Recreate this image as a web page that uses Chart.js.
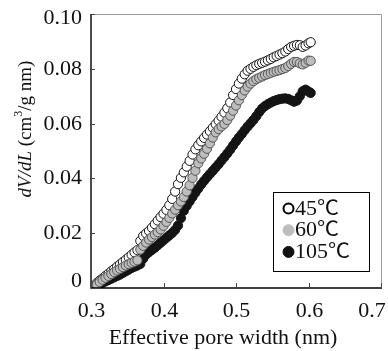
<!DOCTYPE html>
<html>
<head>
<meta charset="utf-8">
<script src="https://cdn.jsdelivr.net/npm/chart.js@4.4.1/dist/chart.umd.min.js"></script>
<style>
  html, body { margin: 0; padding: 0; background: #fff; }
  #wrap { width: 388px; height: 351px; }
</style>
</head>
<body>
<div id="wrap"><canvas id="poreChart" width="388" height="351"></canvas></div>
<script>
var poreWidth = [0.308, 0.312, 0.316, 0.320, 0.324, 0.328, 0.332, 0.336, 0.340, 0.344,
    0.348, 0.352, 0.356, 0.360, 0.364, 0.368, 0.372, 0.376, 0.380, 0.384,
    0.388, 0.392, 0.396, 0.400, 0.404, 0.408, 0.412, 0.416, 0.420, 0.424,
    0.428, 0.432, 0.436, 0.440, 0.444, 0.448, 0.452, 0.456, 0.460, 0.464,
    0.468, 0.472, 0.476, 0.480, 0.484, 0.488, 0.492, 0.496, 0.500, 0.504,
    0.508, 0.512, 0.516, 0.520, 0.524, 0.528, 0.532, 0.536, 0.540, 0.544,
    0.548, 0.552, 0.556, 0.560, 0.564, 0.568, 0.572, 0.576, 0.580, 0.584,
    0.588, 0.592, 0.596, 0.600, 0.603];

var dvdl45 = [0.0018, 0.0027, 0.0035, 0.0044, 0.0052, 0.0061, 0.0069, 0.0078, 0.0086, 0.0095,
    0.0103, 0.0112, 0.0121, 0.0130, 0.0138, 0.0172, 0.0190, 0.0199, 0.0208, 0.0220,
    0.0233, 0.0246, 0.0259, 0.0271, 0.0285, 0.0302, 0.0325, 0.0352, 0.0379, 0.0402,
    0.0422, 0.0443, 0.0464, 0.0487, 0.0506, 0.0521, 0.0535, 0.0548, 0.0560, 0.0572,
    0.0585, 0.0598, 0.0611, 0.0625, 0.0640, 0.0656, 0.0677, 0.0704, 0.0726, 0.0746,
    0.0764, 0.0780, 0.0793, 0.0800, 0.0807, 0.0813, 0.0818, 0.0822, 0.0826, 0.0831,
    0.0836, 0.0842, 0.0847, 0.0852, 0.0857, 0.0863, 0.0872, 0.0880, 0.0884, 0.0887,
    0.0886, 0.0880, 0.0885, 0.0893, 0.0897];

var dvdl60 = [0.0012, 0.0022, 0.0030, 0.0037, 0.0044, 0.0051, 0.0058, 0.0064, 0.0070, 0.0076,
    0.0082, 0.0087, 0.0092, 0.0096, 0.0101, 0.0140, 0.0154, 0.0166, 0.0177, 0.0186,
    0.0195, 0.0204, 0.0214, 0.0227, 0.0241, 0.0256, 0.0272, 0.0286, 0.0302, 0.0316,
    0.0332, 0.0352, 0.0375, 0.0402, 0.0428, 0.0455, 0.0473, 0.0490, 0.0508, 0.0528,
    0.0549, 0.0568, 0.0580, 0.0590, 0.0599, 0.0613, 0.0629, 0.0647, 0.0666, 0.0685,
    0.0704, 0.0721, 0.0735, 0.0746, 0.0755, 0.0762, 0.0767, 0.0772, 0.0777, 0.0781,
    0.0785, 0.0789, 0.0792, 0.0795, 0.0799, 0.0803, 0.0810, 0.0818, 0.0825, 0.0825,
    0.0820, 0.0816, 0.0822, 0.0830, 0.0829];

var dvdl105 = [0.0008, 0.0014, 0.0019, 0.0024, 0.0029, 0.0034, 0.0039, 0.0044, 0.0049, 0.0055,
    0.0061, 0.0067, 0.0073, 0.0078, 0.0082, 0.0088, 0.0107, 0.0122, 0.0131, 0.0139,
    0.0147, 0.0156, 0.0165, 0.0174, 0.0183, 0.0192, 0.0201, 0.0212, 0.0228, 0.0255,
    0.0282, 0.0300, 0.0316, 0.0332, 0.0348, 0.0363, 0.0378, 0.0391, 0.0404, 0.0416,
    0.0428, 0.0440, 0.0452, 0.0465, 0.0478, 0.0491, 0.0505, 0.0520, 0.0535, 0.0549,
    0.0562, 0.0576, 0.0589, 0.0601, 0.0613, 0.0627, 0.0642, 0.0655, 0.0664, 0.0671,
    0.0677, 0.0682, 0.0686, 0.0689, 0.0691, 0.0692, 0.0690, 0.0685, 0.0680, 0.0684,
    0.0700, 0.0718, 0.0724, 0.0717, 0.0712];

var seriesLabels = ['45\u2103', '60\u2103', '105\u2103'];
var xTickLabels = ['0.3', '0.4', '0.5', '0.6', '0.7'];
var yTickLabels = ['0', '0.02', '0.04', '0.06', '0.08', '0.10'];

var serif = '"Liberation Serif", "Times New Roman", "Noto Sans CJK JP", serif';

function toPoints(ys) {
    return poreWidth.map(function (x, i) { return { x: x, y: ys[i] }; });
}

// the scanned figure has slightly wide lettering, so stretch text a bit
function wideText(ctx, str, x, y, align) {
    ctx.save();
    ctx.translate(x, y);
    ctx.scale(1.1, 1);
    ctx.textAlign = align;
    ctx.fillText(str, 0, 0);
    ctx.restore();
}

// axes, inward ticks, labels, titles and the boxed legend
var framePlugin = {
    id: 'frame',
    afterDraw: function (chart) {
        var ctx = chart.ctx;
        var a = chart.chartArea;
        var xs = chart.scales.x, ys = chart.scales.y;
        ctx.save();

        ctx.strokeStyle = '#9a9a9a';
        ctx.lineWidth = 1;
        ctx.beginPath();
        ctx.moveTo(a.left, a.top + 0.5);
        ctx.lineTo(a.right + 0.5, a.top + 0.5);
        ctx.lineTo(a.right + 0.5, a.bottom);
        ctx.stroke();

        ctx.strokeStyle = '#000';
        ctx.lineWidth = 1.4;
        ctx.beginPath();
        ctx.moveTo(a.left, a.top);
        ctx.lineTo(a.left, a.bottom);
        ctx.lineTo(a.right + 1, a.bottom);
        ctx.stroke();

        ctx.lineWidth = 1;
        ctx.strokeStyle = '#444';
        ctx.fillStyle = '#111';
        ctx.font = '20px ' + serif;
        ctx.textBaseline = 'middle';

        ys.ticks.forEach(function (t, i) {
            var y = Math.round(ys.getPixelForValue(t.value)) + 0.5;
            ctx.beginPath();
            ctx.moveTo(a.left, y);
            ctx.lineTo(a.left + 4, y);
            ctx.stroke();
            var ly = Math.min(Math.max(y, a.top + 5), a.bottom - 6);
            wideText(ctx, yTickLabels[i], a.left - 9, ly, 'right');
        });

        xs.ticks.forEach(function (t, i) {
            var x = Math.round(xs.getPixelForValue(t.value)) + 0.5;
            ctx.beginPath();
            ctx.moveTo(x, a.bottom);
            ctx.lineTo(x, a.bottom - 5);
            ctx.stroke();
            var lx = Math.min(x, a.right - 9);
            wideText(ctx, xTickLabels[i], lx, 312, 'center');
        });

        wideText(ctx, 'Effective pore width (nm)', 223, 339, 'center');

        // y title: italic dV/dL then (cm^3/g nm)
        ctx.save();
        ctx.translate(26, 129);
        ctx.rotate(-Math.PI / 2);
        var parts = [
            { t: 'dV/dL', f: 'italic 19px ' + serif, dy: 0 },
            { t: ' (cm', f: '19px ' + serif, dy: 0 },
            { t: '3', f: '12px ' + serif, dy: -7 },
            { t: '/g nm)', f: '19px ' + serif, dy: 0 }
        ];
        var total = 0;
        parts.forEach(function (p) { ctx.font = p.f; p.w = ctx.measureText(p.t).width; total += p.w; });
        var cx = -total / 2;
        ctx.textAlign = 'left';
        parts.forEach(function (p) {
            ctx.font = p.f;
            ctx.fillText(p.t, cx, p.dy);
            cx += p.w;
        });
        ctx.restore();

        // legend box
        var bx = 273, by = 192, bw = 96, bh = 79;
        ctx.fillStyle = '#fff';
        ctx.fillRect(bx, by, bw, bh);
        ctx.strokeStyle = '#000';
        ctx.lineWidth = 1;
        ctx.strokeRect(bx + 0.5, by + 0.5, bw, bh);
        var fills = ['#ffffff', '#bdbdbd', '#111111'];
        var strokes = ['#000000', '#bdbdbd', '#111111'];
        ctx.font = '20px ' + serif;
        seriesLabels.forEach(function (lab, i) {
            var cy = 208.5 + i * 21.7;
            ctx.beginPath();
            ctx.arc(288.5, cy, i === 0 ? 5 : 5.5, 0, Math.PI * 2);
            ctx.fillStyle = fills[i];
            ctx.fill();
            ctx.lineWidth = i === 0 ? 2 : 1;
            ctx.strokeStyle = strokes[i];
            ctx.stroke();
            ctx.fillStyle = '#111';
            wideText(ctx, lab, 295, cy + 1, 'left');
        });

        ctx.restore();
    }
};

var ctx = document.getElementById('poreChart').getContext('2d');
new Chart(ctx, {
    type: 'scatter',
    data: {
        datasets: [{
            label: seriesLabels[0],
            data: toPoints(dvdl45),
            backgroundColor: '#ffffff',
            borderColor: '#111111',
            borderWidth: 1,
            pointRadius: 4.6,
            order: 1
        }, {
            label: seriesLabels[1],
            data: toPoints(dvdl60),
            backgroundColor: '#bdbdbd',
            borderColor: '#555555',
            borderWidth: 1,
            pointRadius: 4.6,
            order: 0
        }, {
            label: seriesLabels[2],
            data: toPoints(dvdl105),
            backgroundColor: '#141414',
            borderColor: '#141414',
            borderWidth: 1,
            pointRadius: 4.6,
            order: 2
        }]
    },
    options: {
        responsive: false,
        animation: false,
        devicePixelRatio: 1,
        layout: { padding: { left: 91, top: 14, right: 7, bottom: 63 } },
        plugins: {
            legend: { display: false },
            tooltip: { enabled: false }
        },
        scales: {
            x: {
                type: 'linear',
                display: false,
                min: 0.3,
                max: 0.7,
                ticks: { stepSize: 0.1 }
            },
            y: {
                display: false,
                min: 0,
                max: 0.1,
                ticks: { stepSize: 0.02 }
            }
        }
    },
    plugins: [framePlugin]
});
</script>
</body>
</html>
